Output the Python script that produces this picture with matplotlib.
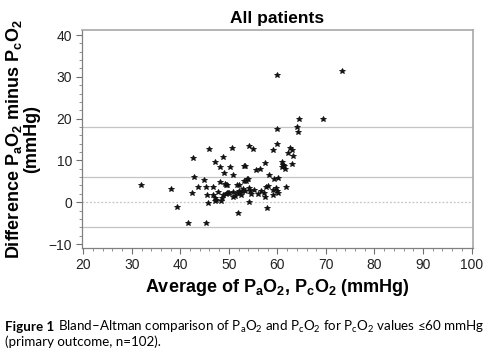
import matplotlib
matplotlib.use("Agg")
import matplotlib.pyplot as plt
from matplotlib.ticker import AutoMinorLocator

plt.rcParams['mathtext.fontset'] = 'custom'
plt.rcParams['mathtext.rm'] = 'Liberation Sans'
plt.rcParams['mathtext.bf'] = 'Liberation Sans:bold'
plt.rcParams['mathtext.sf'] = 'Lato'

# Data: average of PaO2 and PcO2 (x) vs difference PaO2 - PcO2 (y)
avg = [31.9, 38.0, 39.4, 41.5, 45.2, 42.7, 42.8, 42.45, 43.6, 44.9, 45.2, 45.5, 45.6, 45.9,
       46.7, 46.8, 47.2, 47.2, 47.2, 47.7, 48.1, 48.15, 48.4, 48.7, 48.6, 48.8, 48.97, 49.25,
       49.5, 49.7, 49.7, 49.9, 50.1, 50.3, 50.7, 50.8, 50.8, 51.2, 51.7, 52.0, 51.7, 51.9,
       52.1, 52.3, 52.5, 52.75, 52.95, 53.1, 53.3, 53.1, 53.4, 53.5, 53.65, 53.85, 54.1, 54.2,
       54.2, 54.3, 54.6, 55.0, 55.2, 55.6, 55.9, 56.4, 56.7, 57.3, 57.4, 57.6, 57.85, 58.0,
       58.3, 59.0, 59.1, 59.1, 59.3, 59.7, 59.9, 60.0, 60.0, 60.0, 60.1, 60.2, 60.9, 61.0,
       61.2, 61.3, 61.5, 61.7, 62.2, 62.6, 63.0, 63.2, 63.0, 64.0, 64.2, 64.4, 69.4, 73.3,
       47.3, 50.9, 57.5, 49.4]
diff = [4.0, 3.1, -1.1, -5.05, -5.05, 10.6, 6.0, 2.1, 3.6, 5.3, 3.6, 1.7, -0.1, 12.8,
        1.8, 3.7, 9.7, 1.1, 0.2, 2.4, 8.5, 4.8, 0.2, 10.7, 1.1, 1.8, 6.9, 4.3,
        4.2, 4.0, 2.3, 2.2, 2.1, 8.5, 12.9, 6.6, 1.2, 1.4, 4.0, 4.0, 2.1, -2.6,
        2.6, 2.3, 1.8, 2.8, 3.1, 8.7, 8.7, 5.1, 2.7, 5.1, 5.6, 5.6, 3.3, 13.5,
        -0.05, 2.6, 2.0, 12.8, 2.9, 7.7, 1.9, 8.0, 2.6, 2.3, 9.4, 3.7, -1.5, 3.9,
        6.6, 12.5, 3.0, 1.7, 5.6, 3.3, 2.8, 17.4, 30.4, 13.9, 5.8, 2.1, 9.7, 8.5,
        9.0, 8.6, 7.9, 3.7, 11.8, 12.9, 12.4, 11.0, 9.1, 17.9, 16.9, 19.8, 19.8, 31.5,
        0.5, 2.5, 1.2, 2.0]

mean_diff = 6.0
upper_loa = 17.9
lower_loa = -6.0

x_ticks = [20, 30, 40, 50, 60, 70, 80, 90, 100]
y_ticks = [-10, 0, 10, 20, 30, 40]

fig = plt.figure(figsize=(4.89, 3.53), dpi=100)
ax = fig.add_axes([0.167, 0.2975, 0.8, 0.6175])

for v in (upper_loa, mean_diff, lower_loa):
    ax.axhline(v, color='#c4c4c4', lw=0.9, zorder=1)
ax.axhline(0, color='#c4c4c4', lw=0.9, ls=(0, (1.5, 1.5)), zorder=1)

ax.plot(avg, diff, ls='none', marker='*', ms=4.3, mfc='#111111', mec='#111111', mew=0.6, zorder=3)

ax.set_xlim(19.67, 100.27)
ax.set_ylim(-10.95, 41.2)
ax.set_xticks(x_ticks)
ax.set_yticks(y_ticks)
ax.xaxis.set_minor_locator(AutoMinorLocator(5))
ax.yaxis.set_minor_locator(AutoMinorLocator(5))
ax.set_xticklabels([str(t) for t in x_ticks])
ax.set_yticklabels(['\u221210' if t < 0 else str(t) for t in y_ticks])

for s in ('top', 'right'):
    ax.spines[s].set_color('#a8a8a8')
    ax.spines[s].set_linewidth(1.2)
for s in ('left', 'bottom'):
    ax.spines[s].set_color('#808080')
    ax.spines[s].set_linewidth(0.9)

ax.tick_params(which='major', direction='out', length=4, width=0.8, color='#707070',
               labelsize=10, labelcolor='#222222', pad=3)
ax.tick_params(which='minor', direction='out', length=2, width=0.6, color='#808080')
for lab in ax.get_xticklabels() + ax.get_yticklabels():
    lab.set_family('Liberation Sans')

ax.set_title('All patients', fontsize=12.5, fontweight='bold', family='Liberation Sans', pad=5)
ax.set_xlabel(r'Average of $\mathbf{P_aO_2}$, $\mathbf{P_cO_2}$ (mmHg)', fontsize=13,
              fontweight='bold', family='Liberation Sans', labelpad=4)
ax.set_ylabel('Difference $\\mathbf{P_aO_2}$ minus $\\mathbf{P_cO_2}$\n(mmHg)', fontsize=13,
              fontweight='bold', family='Liberation Sans', labelpad=6, linespacing=0.95)

# Caption
cap_y1 = 1 - 327 / 353
cap_y2 = 1 - 342 / 353
fam = ['Lato', 'DejaVu Sans']
fs = 9.6
t1 = fig.text(5 / 489, cap_y1, 'Figure 1', fontsize=fs, fontweight='bold', family=fam, va='center')
fig.canvas.draw()
r = fig.canvas.get_renderer()
bb = t1.get_window_extent(r)
caption_rest = ('Bland\u2013Altman comparison of $\\mathsf{P_aO_2}$ and $\\mathsf{P_cO_2}$ '
                'for $\\mathsf{P_cO_2}$ values \u226460 mmHg')
fig.text((bb.x1 + 4) / 489, cap_y1, caption_rest, fontsize=fs, family=fam, va='center')
fig.text(5 / 489, cap_y2, '(primary outcome, n=102).', fontsize=fs, family=fam, va='center')

fig.savefig('out.png', dpi=100)
